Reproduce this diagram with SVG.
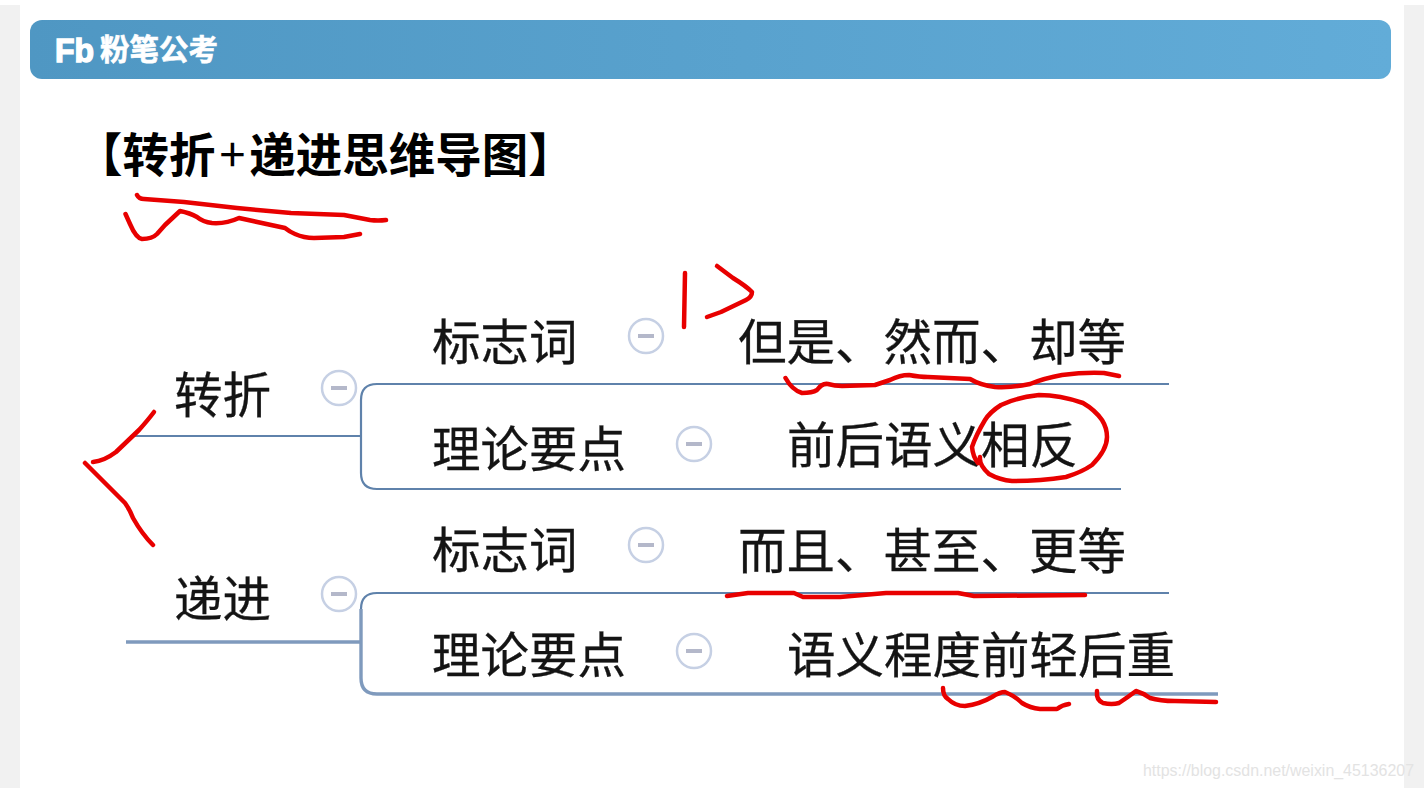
<svg xmlns="http://www.w3.org/2000/svg" width="1424" height="788" viewBox="0 0 1424 788">
<style>
.t{font-family:"Noto Sans CJK SC","Noto Sans",sans-serif;font-size:48.5px;fill:#141414;stroke:#141414;stroke-width:.3}
.c{fill:#fff;stroke:#c6d0e4;stroke-width:2.5}
.m{stroke:#b4b8ca;stroke-width:4;fill:none}
.l{fill:none;stroke:#5f82ab;stroke-width:2.2}
.l2{fill:none;stroke:#7f9abd;stroke-width:3.4}
.r{fill:none;stroke:#e80000;stroke-width:4.500;stroke-linecap:round;stroke-linejoin:round}
</style>
<defs>
<linearGradient id="hg" x1="0" x2="1" y1="0" y2="0"><stop offset="0" stop-color="#4f97c3"/><stop offset="1" stop-color="#62acd8"/></linearGradient>
<filter id="soft" x="-5%" y="-5%" width="110%" height="110%"><feGaussianBlur stdDeviation="0.5"/></filter>
</defs>
<rect width="1424" height="788" fill="#fff"/>
<rect x="0" y="5" width="20" height="783" fill="#f1f1f1"/>
<rect x="1404" y="5" width="20" height="783" fill="#f1f1f1"/>
<g id="header">
<rect x="30" y="20" width="1361" height="59" rx="12" fill="url(#hg)"/>
<text x="55" y="62" textLength="39" lengthAdjust="spacingAndGlyphs" style="font-family:'Liberation Sans',sans-serif;font-weight:700;font-size:34px;fill:#fff;stroke:#fff;stroke-width:1.5">Fb</text>
<text x="100" y="60" style="font-family:'Noto Sans CJK SC',sans-serif;font-weight:700;font-size:29.5px;fill:#fff;stroke:#fff;stroke-width:.6">粉笔公考</text>
</g>
<g id="title"><text x="76" y="172" style="font-family:'Noto Sans CJK SC',sans-serif;font-weight:700;font-size:46.500px;fill:#000">【转折<tspan dx="4" font-weight="400">+</tspan><tspan dx="4">递进思维导图】</tspan></text></g>
<g id="connectors" filter="url(#soft)">
<path class="l" d="M1169 384H377Q361 384 361 400V473Q361 489 377 489H1121"/>
<path class="l" d="M130 436H361"/>
<path class="l" d="M1169 593H377Q361 593 361 609"/>
<path class="l2" d="M361 609V678Q361 694 377 694H1218"/>
<path class="l2" d="M126 642H361"/>
</g>
<g id="n1"><text class="t" x="174" y="413">转折</text><circle class="c" cx="339" cy="388" r="17"/><path class="m" d="M331 388H347"/></g>
<g id="n2"><text class="t" x="432" y="360">标志词</text><circle class="c" cx="646" cy="336" r="17"/><path class="m" d="M638 336H654"/></g>
<g id="n3"><text class="t" x="738" y="360">但是、然而、却等</text></g>
<g id="n4"><text class="t" x="432" y="467">理论要点</text><circle class="c" cx="694" cy="444" r="17"/><path class="m" d="M686 444H702"/></g>
<g id="n5"><text class="t" x="787" y="463">前后语义相反</text></g>
<g id="n6"><text class="t" x="174" y="617">递进</text><circle class="c" cx="339" cy="594" r="17"/><path class="m" d="M331 594H347"/></g>
<g id="n7"><text class="t" x="432" y="568">标志词</text><circle class="c" cx="646" cy="545" r="17"/><path class="m" d="M638 545H654"/></g>
<g id="n8"><text class="t" x="738" y="569">而且、甚至、更等</text></g>
<g id="n9"><text class="t" x="432" y="673">理论要点</text><circle class="c" cx="694" cy="651" r="17"/><path class="m" d="M686 651H702"/></g>
<g id="n10"><text class="t" x="787" y="673">语义程度前轻后重</text></g>
<g id="ink" filter="url(#soft)">
<path class="r" d="M137 195Q139 199 144 199L184 202L237 208L291 213L344 215L370 220Q378 221 386 220"/>
<path class="r" d="M125.500 214L130 224Q136 238 142 239Q152 239 157 234L165 225L180 211Q190 213 197 217Q203 222 212 223Q226 224 239 218L285 228Q290 232 295 234Q304 238 314 238L344 237L360 234"/>
<path class="r" d="M154 412Q148 420 139 430L116 452Q104 461 93 462"/>
<path class="r" d="M85 463L125 503Q130 510 133 518Q142 534 153 545"/>
<path class="r" d="M685 273L684 327"/>
<path class="r" d="M717 266L733 278Q746 286 752 292Q752 297 746 300L721 312L707 317"/>
<path class="r" d="M785.500 378Q792 390 802 393Q812 393 817 390Q822 383 828 384Q835 386 842 386L875 385Q884 382 890 380Q900 375 909 375Q920 377 928 377L970 379Q980 385 995 387Q1012 388 1030 384Q1045 378 1062 375Q1085 372 1104 373L1119 376"/>
<path class="r" d="M980 457Q979 465 989 474Q1000 480 1012 481Q1040 481 1066 477Q1082 472 1092 465Q1107 450 1107 437Q1107 428 1102 420Q1095 410 1083 403Q1060 395 1039 395Q1018 397 1001 405Q990 412 985 420Q976 435 972 447Q973 457 978 463"/>
<path class="r" d="M727 596L748 593L794 593L803 597L840 597L886 593L958 593L974 596L1085 595"/>
<path class="r" d="M943 688Q943 696 948 699Q955 706 965 706Q980 704 992 697Q1000 692 1005 692Q1015 696 1022 703Q1030 708 1040 709L1057 709Q1062 705 1069 704"/>
<path class="r" d="M1097 691Q1096 700 1103 703Q1112 705 1119 703Q1128 697 1136 691Q1143 693 1150 698Q1160 701 1175 701L1216 702"/>
</g>
<text x="1143" y="776" textLength="271" lengthAdjust="spacingAndGlyphs" style="font-family:'Liberation Sans',sans-serif;font-size:16px;fill:#e3e3e3">https://blog.csdn.net/weixin_45136207</text>
</svg>
